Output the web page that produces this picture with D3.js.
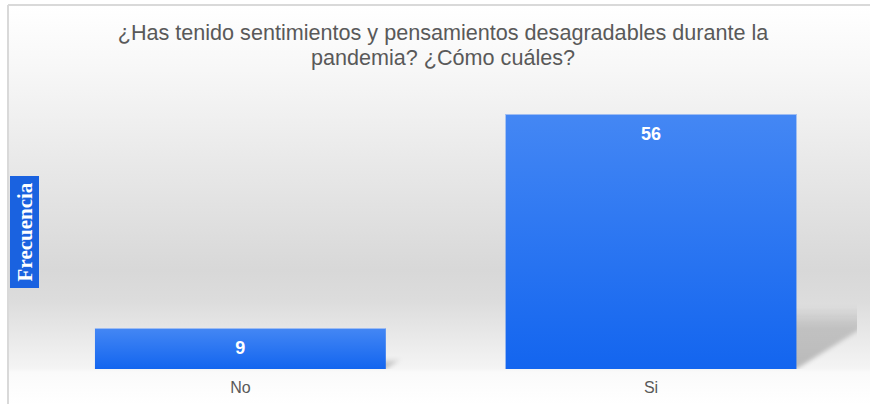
<!DOCTYPE html>
<html><head><meta charset="utf-8">
<script src="https://cdn.jsdelivr.net/npm/d3@7"></script>
<style>html,body{margin:0;padding:0;background:#fff;}svg{display:block;}</style>
</head><body>
<script>
const categories = ["No", "Si"];
const values = [9, 56];
const titleLines = ["¿Has tenido sentimientos y pensamientos desagradables durante la", "pandemia? ¿Cómo cuáles?"];
const yTitle = "Frecuencia";

const W = 870, H = 404;
const svg = d3.select("body").append("svg").attr("width", W).attr("height", H);
const defs = svg.append("defs");

const bg = defs.append("linearGradient").attr("id","bg")
  .attr("gradientUnits","userSpaceOnUse").attr("x1",0).attr("x2",0).attr("y1",5).attr("y2",404);
[[5,"#ffffff"],[70,"#f7f7f7"],[270,"#d8d8d8"],[300,"#dcdcdc"],[368,"#f4f4f4"],[372,"#fafafa"],[404,"#ffffff"]]
  .forEach(([yy,c]) => bg.append("stop").attr("offset",(yy-5)/399).attr("stop-color",c));

const barG = defs.append("linearGradient").attr("id","barg").attr("x1",0).attr("y1",0).attr("x2",0).attr("y2",1);
barG.append("stop").attr("offset",0).attr("stop-color","#4487f4");
barG.append("stop").attr("offset",1).attr("stop-color","#1365ef");

const shG = defs.append("linearGradient").attr("id","shg").attr("x1",0).attr("y1",0).attr("x2",0).attr("y2",1);
shG.append("stop").attr("offset",0).attr("stop-color","#000").attr("stop-opacity",0);
shG.append("stop").attr("offset",0.35).attr("stop-color","#000").attr("stop-opacity",0.16);
shG.append("stop").attr("offset",1).attr("stop-color","#000").attr("stop-opacity",0.24);

defs.append("filter").attr("id","blur").attr("x","-20%").attr("y","-20%").attr("width","140%").attr("height","140%")
  .append("feGaussianBlur").attr("stdDeviation",2);
defs.append("clipPath").attr("id","clip").append("rect").attr("x",0).attr("y",0).attr("width",857).attr("height",369);

// background & border
svg.append("rect").attr("x",8).attr("y",5).attr("width",W).attr("height",H).attr("fill","url(#bg)");
svg.append("line").attr("x1",8).attr("x2",W).attr("y1",5).attr("y2",5).attr("stroke","#d9d9d9").attr("stroke-width",2);
svg.append("line").attr("x1",8).attr("x2",8).attr("y1",5).attr("y2",H).attr("stroke","#d9d9d9").attr("stroke-width",2);

const x = d3.scaleBand().domain(categories).range([35, 856.4]).paddingInner(0.2917).paddingOuter(0.146);
const y = d3.scaleLinear().domain([0, 60]).range([369, 95.8]);
const base = y(0);

// shadows
const shadowG = svg.append("g").attr("clip-path","url(#clip)");
shadowG.selectAll("path").data(values).join("path")
  .attr("d", (d,i) => {
    const x0 = x(categories[i]), x1 = x0 + x.bandwidth();
    const h = base - y(d);
    const dy = h*0.25, dx = h*0.4;
    return `M${x0},${base}L${x1},${base}L${x1+dx},${base-dy}L${x0+dx},${base-dy}Z`;
  })
  .attr("fill","url(#shg)").attr("filter","url(#blur)");

// bars
svg.selectAll("rect.bar").data(values).join("rect").attr("class","bar")
  .attr("x",(d,i)=>x(categories[i])).attr("width",x.bandwidth())
  .attr("y",d=>y(d)).attr("height",d=>base-y(d))
  .attr("fill","url(#barg)");
svg.selectAll("line.bt").data(values).join("line").attr("class","bt")
  .attr("x1",(d,i)=>x(categories[i])).attr("x2",(d,i)=>x(categories[i])+x.bandwidth())
  .attr("y1",d=>y(d)+0.5).attr("y2",d=>y(d)+0.5).attr("stroke","#9ebcf2").attr("stroke-width",1);

// value labels
svg.selectAll("text.val").data(values).join("text").attr("class","val")
  .attr("x",(d,i)=>x(categories[i])+x.bandwidth()/2)
  .attr("y",d=>y(d)+25.5)
  .attr("text-anchor","middle").attr("fill","#fff")
  .attr("font-family","Liberation Sans, Arial, sans-serif").attr("font-weight","bold").attr("font-size",18)
  .text(d=>d);

// x axis
const xAxis = svg.append("g").attr("transform",`translate(0,${base})`).call(d3.axisBottom(x).tickSize(0).tickPadding(0));
xAxis.select(".domain").remove();
xAxis.selectAll("text").attr("dy",0).attr("y",24)
  .attr("fill","#595959").attr("font-family","Liberation Sans, Arial, sans-serif").attr("font-size",16);

// title
svg.append("text").attr("text-anchor","middle")
  .attr("font-family","Liberation Sans, Arial, sans-serif").attr("font-size",21.6).attr("fill","#595959")
  .selectAll("tspan").data(titleLines).join("tspan")
  .attr("x",443).attr("y",(d,i)=>40+i*25).text(d=>d);

// y title
svg.append("rect").attr("x",10).attr("y",176).attr("width",29).attr("height",112).attr("fill","#1a62e0");
svg.append("text").attr("transform","translate(31.5,232) rotate(-90)").attr("text-anchor","middle")
  .attr("font-family","Liberation Serif, Times New Roman, serif").attr("font-weight","bold").attr("font-size",21)
  .attr("fill","#fff").text(yTitle);
</script>
</body></html>
